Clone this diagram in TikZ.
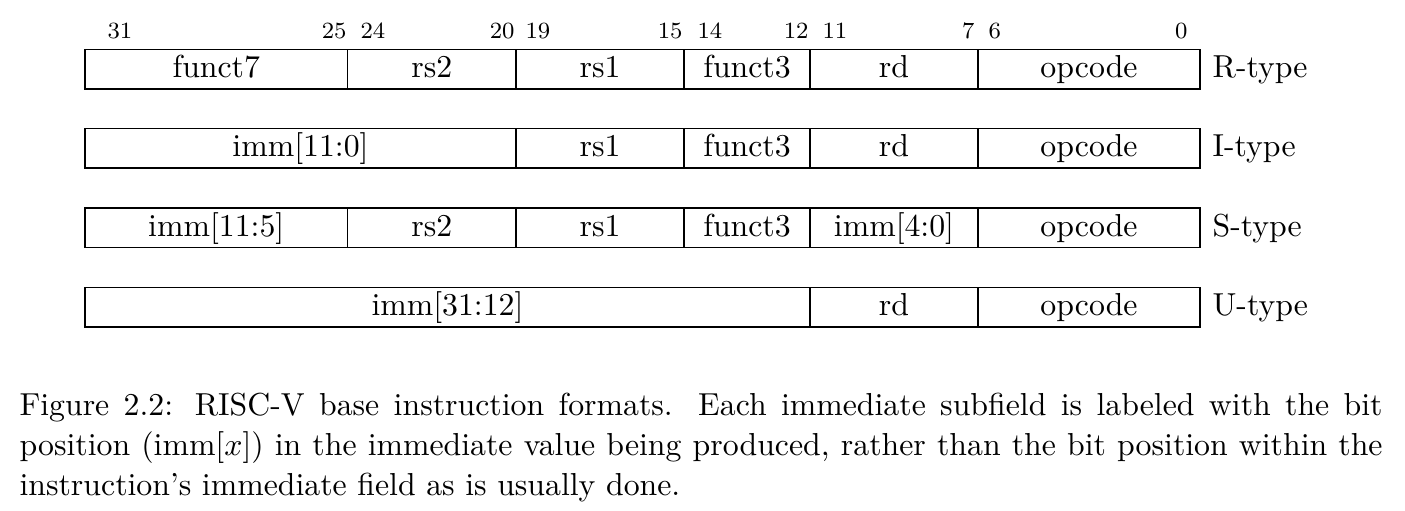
\documentclass[tikz,border=0pt]{standalone}
\usepackage{tikz}
\begin{document}
\begin{tikzpicture}[x=0.3444pt,y=-0.3444pt,
  fld/.style={draw=black,line width=0.45pt},
  ftxt/.style={anchor=base,inner sep=0pt,font=\fontsize{10.95}{13.6}\selectfont},
  tlab/.style={anchor=base west,inner sep=0pt,font=\fontsize{10.95}{13.6}\selectfont},
  bitl/.style={anchor=base west,inner sep=0pt,font=\fontsize{8}{9.5}\selectfont},
  bitr/.style={anchor=base east,inner sep=0pt,font=\fontsize{8}{9.5}\selectfont}]
\useasboundingbox (0,0) rectangle (1405,511);
% bit numbers
\node[bitl] (b31) at (107,38.5) {31};
\node[bitr] (b25) at (347,38.5) {25};
\node[bitl] (b24) at (360,38.5) {24};
\node[bitr] (b20) at (515,38.5) {20};
\node[bitl] (b19) at (525,38.5) {19};
\node[bitr] (b15) at (683,38.5) {15};
\node[bitl] (b14) at (697,38.5) {14};
\node[bitr] (b12) at (809,38.5) {12};
\node[bitl] (b11) at (822,38.5) {11};
\node[bitr] (b7) at (975,38.5) {7};
\node[bitl] (b6) at (988,38.5) {6};
\node[bitr] (b0) at (1188,38.5) {0};
% R-type
\draw[fld] (85,49.5) rectangle (1200,89);
\foreach \x in {347.5,516,684,810,978} \draw[fld] (\x,49.5) -- (\x,89);
\node[ftxt] (rf7) at (216.25,78) {funct7};
\node[ftxt] (rrs2) at (431.75,78) {rs2};
\node[ftxt] (rrs1) at (600,78) {rs1};
\node[ftxt] (rf3) at (747,78) {funct3};
\node[ftxt] (rrd) at (894,78) {rd};
\node[ftxt] (rop) at (1089,78) {opcode};
\node[tlab] (rt) at (1212,78) {R-type};
% I-type
\draw[fld] (85,128.5) rectangle (1200,168);
\foreach \x in {516,684,810,978} \draw[fld] (\x,128.5) -- (\x,168);
\node[ftxt] (iimm) at (300.5,157) {imm[11:0]};
\node[ftxt] (irs1) at (600,157) {rs1};
\node[ftxt] (if3) at (747,157) {funct3};
\node[ftxt] (ird) at (894,157) {rd};
\node[ftxt] (iop) at (1089,157) {opcode};
\node[tlab] (it) at (1212,157) {I-type};
% S-type
\draw[fld] (85,208) rectangle (1200,247.5);
\foreach \x in {347.5,516,684,810,978} \draw[fld] (\x,208) -- (\x,247.5);
\node[ftxt] (simmh) at (216.25,236.5) {imm[11:5]};
\node[ftxt] (srs2) at (431.75,236.5) {rs2};
\node[ftxt] (srs1) at (600,236.5) {rs1};
\node[ftxt] (sf3) at (747,236.5) {funct3};
\node[ftxt] (simml) at (894,236.5) {imm[4:0]};
\node[ftxt] (sop) at (1089,236.5) {opcode};
\node[tlab] (st) at (1212,236.5) {S-type};
% U-type
\draw[fld] (85,287.5) rectangle (1200,327);
\foreach \x in {810,978} \draw[fld] (\x,287.5) -- (\x,327);
\node[ftxt] (uimm) at (447.5,315.5) {imm[31:12]};
\node[ftxt] (urd) at (894,315.5) {rd};
\node[ftxt] (uop) at (1089,315.5) {opcode};
\node[tlab] (ut) at (1212,315.5) {U-type};
% caption
\node[anchor=north west,inner sep=0pt,text width=1363*0.3444pt,align=justify,
  font=\fontsize{10.95}{13.8}\selectfont] (cap) at (19,392.5)
  {Figure 2.2: RISC-V base instruction formats.  Each immediate subfield is labeled with the bit\linebreak
   position (imm[$x$]) in the immediate value being produced, rather than the bit position within the\linebreak
   instruction's immediate field as is usually done.};
\end{tikzpicture}
\end{document}
